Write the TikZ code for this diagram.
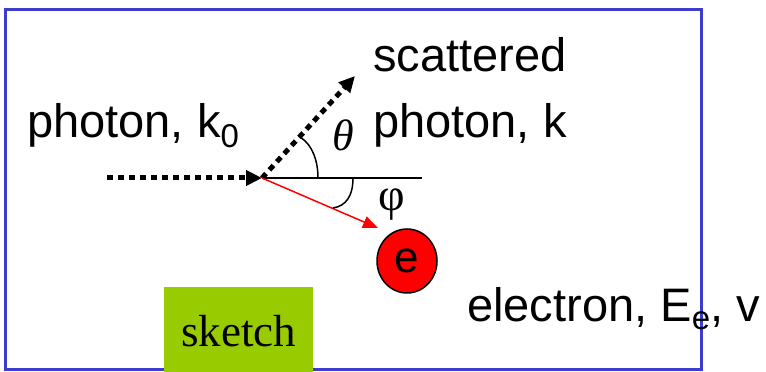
\documentclass[tikz,border=0pt]{standalone}
\usepackage{fontspec}
\setmainfont{Liberation Sans}
\newfontfamily\serifft{Liberation Serif}
\usetikzlibrary{arrows.meta,shapes.geometric}
\definecolor{frameblue}{RGB}{60,60,205}
\definecolor{sketchgreen}{RGB}{153,204,0}
\begin{document}
\begin{tikzpicture}[x=1pt,y=1pt,
  photon/.style={line width=5pt, dash pattern=on 6pt off 5pt, -{Triangle[length=16pt,width=15pt]}},
  lbl/.style={font=\fontsize{47}{56}\selectfont, inner sep=0pt, anchor=base west},
  anglearc/.style={line width=1.5pt},
  electron/.style={ellipse, draw=black, line width=1.5pt, fill=red, minimum width=60pt, minimum height=64pt, inner sep=0pt, font=\fontsize{44}{50}\selectfont},
  sketchbox/.style={fill=sketchgreen, anchor=base west, inner xsep=17pt, inner ysep=0pt, text height=60pt, text depth=25pt, font=\serifft\fontsize{45}{54}\selectfont}
 ]
\useasboundingbox (0,0) rectangle (766,372);
\clip (0,0) rectangle (766,372);
\draw[frameblue, line width=3pt] (5,2) rectangle (701,362);

\coordinate (O) at (262,194);
\coordinate (in) at (107,194);
\coordinate (ks) at (355,296);
\coordinate (h) at (422,194);
\coordinate (eTip) at (378,144);
\node[electron] (e) at (407,111) {e};

% incoming and scattered photons
\draw[photon] (in) -- (O);
\draw[photon] (O) -- (ks);
% reference line
\draw[line width=1.3pt] (O) -- (h);
% recoil electron direction
\draw[red, line width=1.5pt, -{Triangle[length=15pt,width=12pt]}] (O) -- (eTip);
% angle arcs
\draw[anglearc] (318,194) .. controls (318,210) and (313,227) .. (300,235);
\draw[anglearc] (353,194) .. controls (353,176) and (346,166) .. (333,164);

% labels
\node[lbl] (p0) at (27,234) {photon, k\raisebox{-10pt}{\fontsize{33}{40}\selectfont 0}};
\node[lbl] (sc) at (373,300) {scattered};
\node[lbl] (pk) at (373,234) {photon, k};
\node[inner sep=0pt, font=\serifft\itshape\fontsize{44}{50}\selectfont] (th) at (343,237) {θ};
\node[inner sep=0pt, font=\serifft\fontsize{46}{54}\selectfont] (ph) at (392,167) {φ};
\node[lbl] (el) at (467,50) {electron, E\raisebox{-8pt}{\fontsize{33}{40}\selectfont e}, v};
\node[sketchbox] (sk) at (164,25) {sketch};
\end{tikzpicture}
\end{document}
